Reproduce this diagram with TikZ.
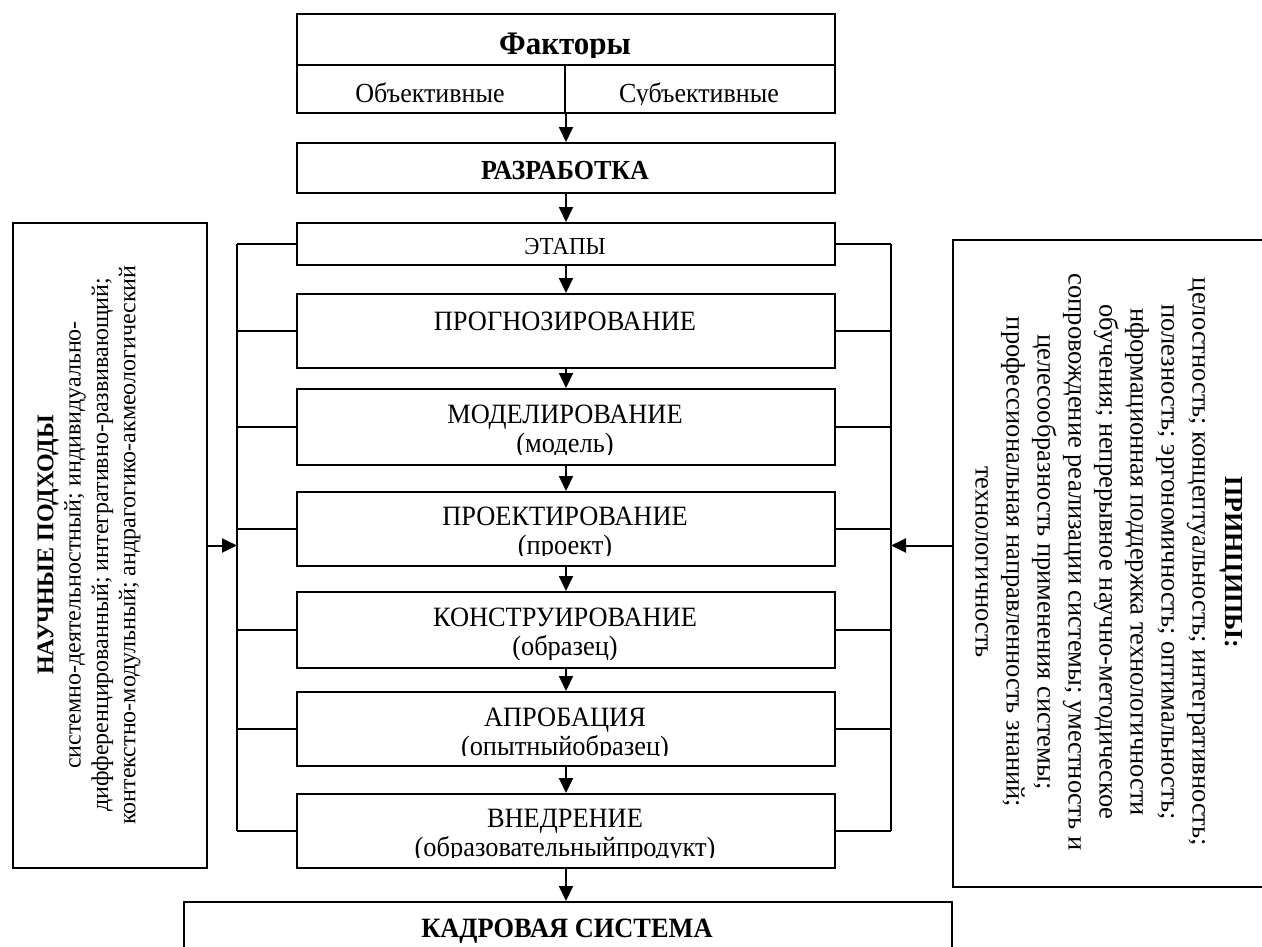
\documentclass[tikz,border=0pt]{standalone}
\usepackage{fontspec}
\setmainfont{Liberation Serif}
\usetikzlibrary{arrows.meta}
\begin{document}
\begin{tikzpicture}[x=1pt,y=-1pt,
  ln/.style={line width=2pt},
  arr/.style={line width=2pt,-{Triangle[length=15pt,width=14pt]}},
  bx/.style={draw, line width=2pt, inner sep=0pt, anchor=north west},
  tx/.style={inner sep=0pt, anchor=base, yscale=1.06},
  stg/.style={tx, font=\fontsize{26.4}{29}\selectfont},
  stgb/.style={tx, font=\fontsize{26.4}{29}\bfseries},
]
\useasboundingbox (0,0) rectangle (1262,946);

% ---------- top boxes ----------
\node[bx, minimum width=538pt, minimum height=99pt] (fak) at (296,13) {};
\coordinate (d1) at (296,65);
\coordinate (d2) at (834,65);
\coordinate (d3) at (565,65);
\draw[ln] (d1) -- (d2);
\draw[ln] (d3) -- (d3 |- fak.south);
\begin{scope}
  \clip (297,14) rectangle (833,57);
  \node[tx, font=\fontsize{31}{36}\bfseries] (fakT) at (565,54) {Факторы};
\end{scope}
\begin{scope}
  \clip (297,66) rectangle (833,104);
  \node[tx, font=\fontsize{26}{29}\selectfont] (objT) at (430,102) {Объективные};
  \node[tx, font=\fontsize{26}{29}\selectfont] (subT) at (699,102) {Субъективные};
\end{scope}

\node[bx, minimum width=538pt, minimum height=50pt] (razr) at (296,142) {};
\node[tx, font=\fontsize{26}{29}\bfseries] (razrT) at (565,179) {РАЗРАБОТКА};

\node[bx, minimum width=538pt, minimum height=42pt] (etap) at (296,222) {};
\node[tx, font=\fontsize{23}{27}\selectfont] (etapT) at (565,254) {ЭТАПЫ};

% ---------- stage boxes ----------
\node[bx, minimum width=538pt, minimum height=74pt] (prog) at (296,293) {};
\node[stg] (progT) at (565,330) {ПРОГНОЗИРОВАНИЕ};

\node[bx, minimum width=538pt, minimum height=76pt] (model) at (296,388) {};
\node[stg] (modelT) at (565,423) {МОДЕЛИРОВАНИЕ};
\begin{scope}
  \clip (297,389) rectangle (833,454);
  \node[stg] (modelS) at (565,452) {(модель)};
\end{scope}

\node[bx, minimum width=538pt, minimum height=74pt] (proekt) at (296,491) {};
\node[stg] (proektT) at (565,525) {ПРОЕКТИРОВАНИЕ};
\begin{scope}
  \clip (297,492) rectangle (833,555.5);
  \node[stg] (proektS) at (565,554) {(проект)};
\end{scope}

\node[bx, minimum width=538pt, minimum height=76pt] (konstr) at (296,591) {};
\node[stg] (konstrT) at (565,626) {КОНСТРУИРОВАНИЕ};
\begin{scope}
  \clip (297,592) rectangle (833,659);
  \node[stg] (konstrS) at (565,655) {(образец)};
\end{scope}

\node[bx, minimum width=538pt, minimum height=74pt] (aprob) at (296,691) {};
\node[stg] (aprobT) at (565,726) {АПРОБАЦИЯ};
\begin{scope}
  \clip (297,692) rectangle (833,755.5);
  \node[stg] (aprobS) at (565,755) {(опытныйобразец)};
\end{scope}

\node[bx, minimum width=538pt, minimum height=74pt] (vnedr) at (296,793) {};
\node[stg] (vnedrT) at (565,827) {ВНЕДРЕНИЕ};
\begin{scope}
  \clip (297,794) rectangle (833,857.5);
  \node[stg] (vnedrS) at (565,856) {(образовательныйпродукт)};
\end{scope}

\node[bx, minimum width=768pt, minimum height=80pt] (kadr) at (183,901) {};
\node[stgb] (kadrT) at (567,937) {КАДРОВАЯ СИСТЕМА};

% ---------- vertical arrows ----------
\draw[arr] (fak.south) -- (razr.north);
\draw[arr] (razr.south) -- (etap.north);
\draw[arr] (etap.south) -- (prog.north);
\draw[arr] (prog.south) -- (model.north);
\draw[arr] (model.south) -- (proekt.north);
\draw[arr] (proekt.south) -- (konstr.north);
\draw[arr] (konstr.south) -- (aprob.north);
\draw[arr] (aprob.south) -- (vnedr.north);
\draw[arr] (vnedr.south) -- (vnedr.south |- kadr.north);

% ---------- side frame ----------
\coordinate (fl) at (237,0);
\coordinate (fr) at (891,0);
\draw[ln] (etap.west -| fl) -- (vnedr.west -| fl);
\draw[ln] (etap.east -| fr) -- (vnedr.east -| fr);
\foreach \b in {etap,prog,model,proekt,konstr,aprob,vnedr}{
  \draw[ln] (\b.west) -- (\b.west -| fl);
  \draw[ln] (\b.east) -- (\b.east -| fr);
}

% ---------- left box ----------
\node[bx, minimum width=194pt, minimum height=645pt] (lbox) at (12,222) {};
\node[rotate=90, align=center, inner sep=0pt, font=\fontsize{24}{27.3}\selectfont] (lboxT) at (89,545)
  {{\bfseries НАУЧНЫЕ ПОДХОДЫ}\\
   системно-деятельностный; индивидуально-\\
   дифференцированный; интегративно-развивающий;\\
   контекстно-модульный; андрагогико-акмеологический};
\draw[arr] (lbox.east) -- (lbox.east -| fl);

% ---------- right box ----------
\node[bx, minimum width=330pt, minimum height=647pt] (rbox) at (952,239) {};
\node[rotate=-90, align=center, inner sep=0pt, font=\fontsize{26.5}{31}\selectfont] (rboxT) at (1109,562)
  {{\fontsize{26}{31}\bfseries ПРИНЦИПЫ:}\\[2pt]
   целостность; концептуальность; интегративность;\\
   полезность; эргономичность; оптимальность;\\
   нформационная поддержка технологичности\\
   обучения; непрерывное научно-методическое\\
   сопровождение реализации системы; уместность и\\
   целесообразность применения системы;\\
   профессиональная направленность знаний;\\
   технологичность};
\draw[arr] (rbox.west |- lbox.east) -- (lbox.east -| fr);
\end{tikzpicture}
\end{document}
